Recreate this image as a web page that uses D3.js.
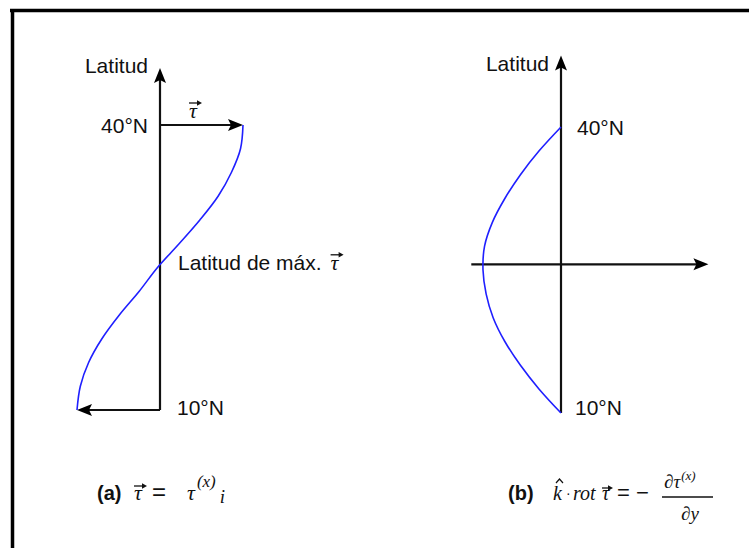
<!DOCTYPE html>
<html>
<head>
<meta charset="utf-8">
<script src="https://cdn.jsdelivr.net/npm/d3@7"></script>
<style>
  html, body { margin: 0; padding: 0; background: #fff; }
  svg { display: block; }
  text { font-family: "Liberation Sans", Arial, sans-serif; fill: #111; }
  .math { font-family: "Liberation Serif", "Times New Roman", serif; font-style: italic; }
</style>
</head>
<body>
<svg id="chart" width="749" height="548"></svg>
<script>
// Wind stress profile tau(x) between 10°N and 40°N (normalised)
const latitudes = [10, 12.5, 15, 17.5, 20, 22.5, 25, 27.5, 30, 32.5, 35, 37.5, 40];
const tauX      = [-1, -0.96, -0.86, -0.7, -0.49, -0.25, -0.03, 0.23, 0.48, 0.7, 0.86, 0.97, 1];
// Curl of the wind stress, k·rot tau = -d tau(x)/dy (normalised)
const curlTau   = [0, -0.28, -0.52, -0.72, -0.87, -0.96, -1, -0.98, -0.88, -0.72, -0.52, -0.28, 0];
// Axis labels
const tickLats   = [10, 40];
const tickLabels = ["10°N", "40°N"];
const latMaxTau  = 25.6;

const svg = d3.select("#chart");
const BLUE = "#1f1fff";

// frame
svg.append("line").attr("x1", 10).attr("x2", 749).attr("y1", 10.5).attr("y2", 10.5)
  .attr("stroke", "#000").attr("stroke-width", 3.5);
svg.append("line").attr("x1", 12.5).attr("x2", 12.5).attr("y1", 9).attr("y2", 548)
  .attr("stroke", "#000").attr("stroke-width", 3.5);

// filled arrowhead with its tip at (x, y) pointing along angle (radians)
function arrowHead(g, x, y, angle, len = 15, half = 6) {
  const c = Math.cos(angle), s = Math.sin(angle);
  const bx = x - c * len, by = y - s * len;
  const nx = -s, ny = c;
  const mx = x - c * len * 0.8, my = y - s * len * 0.8;
  g.append("path")
    .attr("d", `M${x},${y}L${bx + nx * half},${by + ny * half}L${mx},${my}L${bx - nx * half},${by - ny * half}Z`)
    .attr("fill", "#000");
}
function segment(g, x1, y1, x2, y2, w = 2.2) {
  g.append("line").attr("x1", x1).attr("y1", y1).attr("x2", x2).attr("y2", y2)
    .attr("stroke", "#111").attr("stroke-width", w);
}
// small vector arrow drawn above a glyph
function vecArrow(g, x, y, w) {
  segment(g, x, y, x + w - 3, y, 1.3);
  g.append("path").attr("d", `M${x + w},${y}L${x + w - 5},${y - 2.8}L${x + w - 5},${y + 2.8}Z`).attr("fill", "#111");
}

// ---------- panel (a): tau(x) ----------
const gA = svg.append("g");
const yA = d3.scaleLinear().domain([10, 40]).range([410, 125]);
const xA = d3.scaleLinear().domain([-1, 1]).range([77, 243]);

segment(gA, xA(0), yA(10), xA(0), yA(46) + 10);
arrowHead(gA, xA(0), yA(46), -Math.PI / 2);

// stress vectors at the profile ends
segment(gA, xA(0), yA(40), xA(1) - 10, yA(40));
arrowHead(gA, xA(1), yA(40), 0);
segment(gA, xA(0), yA(10), xA(-1) + 10, yA(10));
arrowHead(gA, xA(-1), yA(10), Math.PI);

gA.append("path")
  .datum(latitudes.map((lat, i) => [tauX[i], lat]))
  .attr("fill", "none").attr("stroke", BLUE).attr("stroke-width", 1.6)
  .attr("d", d3.line().x(d => xA(d[0])).y(d => yA(d[1])).curve(d3.curveCatmullRom));

gA.append("text").attr("x", xA(0) - 12).attr("y", yA(46) + 5).attr("text-anchor", "end")
  .attr("font-size", 21).text("Latitud");
gA.append("text").attr("x", xA(0) - 12).attr("y", yA(tickLats[1]) + 8).attr("text-anchor", "end")
  .attr("font-size", 21).text(tickLabels[1]);
gA.append("text").attr("x", xA(0) + 17).attr("y", yA(tickLats[0]) + 5)
  .attr("font-size", 21).text(tickLabels[0]);

// tau label over the top vector
gA.append("text").attr("class", "math").attr("x", 189).attr("y", 118).attr("font-size", 22).text("τ");
vecArrow(gA, 189, 103, 13);

// latitude of maximum stress
const lab = gA.append("text").attr("x", xA(0) + 18).attr("y", yA(latMaxTau) + 8).attr("font-size", 21)
  .text("Latitud de máx.");
const lw = lab.node().getComputedTextLength() + 9;
gA.append("text").attr("class", "math").attr("x", xA(0) + 18 + lw).attr("y", yA(latMaxTau) + 8)
  .attr("font-size", 22).text("τ");
vecArrow(gA, xA(0) + 18 + lw, yA(latMaxTau) - 7, 13);

// caption (a)
gA.append("text").attr("x", 97).attr("y", 500).attr("font-size", 20).attr("font-weight", "bold").text("(a)");
gA.append("text").attr("class", "math").attr("x", 134).attr("y", 500).attr("font-size", 22).text("τ");
vecArrow(gA, 134, 486, 13);
gA.append("text").attr("x", 152).attr("y", 500).attr("font-size", 24).text("=");
const capA = gA.append("text").attr("class", "math").attr("x", 187).attr("y", 500).attr("font-size", 22);
capA.append("tspan").text("τ");
capA.append("tspan").attr("dy", -13).attr("font-size", 17).attr("dx", 2).text("(x)");
capA.append("tspan").attr("dy", 16).attr("font-size", 19).attr("dx", 4).text("i");

// ---------- panel (b): curl of tau ----------
const gB = svg.append("g");
const yB = d3.scaleLinear().domain([10, 40]).range([413, 127]);
const xB = d3.scaleLinear().domain([-1, 0]).range([483, 561]);

segment(gB, xB(0), yB(10), xB(0), yB(47.5) + 10);
arrowHead(gB, xB(0), yB(47.5), -Math.PI / 2);
segment(gB, xB(-1.15), yB(latMaxTau), xB(1.89) - 10, yB(latMaxTau));
arrowHead(gB, xB(1.89), yB(latMaxTau), 0);

gB.append("path")
  .datum(latitudes.map((lat, i) => [curlTau[i], lat]))
  .attr("fill", "none").attr("stroke", BLUE).attr("stroke-width", 1.6)
  .attr("d", d3.line().x(d => xB(d[0])).y(d => yB(d[1])).curve(d3.curveCatmullRom));

gB.append("text").attr("x", xB(0) - 12).attr("y", yB(47.5) + 15).attr("text-anchor", "end")
  .attr("font-size", 21).text("Latitud");
gB.append("text").attr("x", xB(0) + 16).attr("y", yB(tickLats[1]) + 8)
  .attr("font-size", 21).text(tickLabels[1]);
gB.append("text").attr("x", xB(0) + 14).attr("y", yB(tickLats[0]) + 2)
  .attr("font-size", 21).text(tickLabels[0]);

// caption (b)
gB.append("text").attr("x", 508).attr("y", 500).attr("font-size", 20).attr("font-weight", "bold").text("(b)");
gB.append("text").attr("class", "math").attr("x", 553).attr("y", 500).attr("font-size", 20).text("k");
// hat over k
gB.append("path").attr("d", "M556,483L559.5,479L563,483").attr("fill", "none")
  .attr("stroke", "#111").attr("stroke-width", 1.2);
gB.append("text").attr("x", 566).attr("y", 498).attr("font-size", 14).text("·");
gB.append("text").attr("class", "math").attr("x", 573).attr("y", 500).attr("font-size", 20).text("rot");
gB.append("text").attr("class", "math").attr("x", 602).attr("y", 500).attr("font-size", 20).text("τ");
vecArrow(gB, 602, 488, 11);
gB.append("text").attr("x", 617).attr("y", 500).attr("font-size", 22).text("= −");
// fraction -d tau(x)/dy
segment(gB, 662, 497, 713, 497, 1.5);
const num = gB.append("text").attr("class", "math").attr("x", 664).attr("y", 488).attr("font-size", 19);
num.append("tspan").text("∂τ");
num.append("tspan").attr("dy", -8).attr("font-size", 13).attr("dx", 1).text("(x)");
gB.append("text").attr("class", "math").attr("x", 681).attr("y", 520).attr("font-size", 19).text("∂y");
</script>
</body>
</html>
